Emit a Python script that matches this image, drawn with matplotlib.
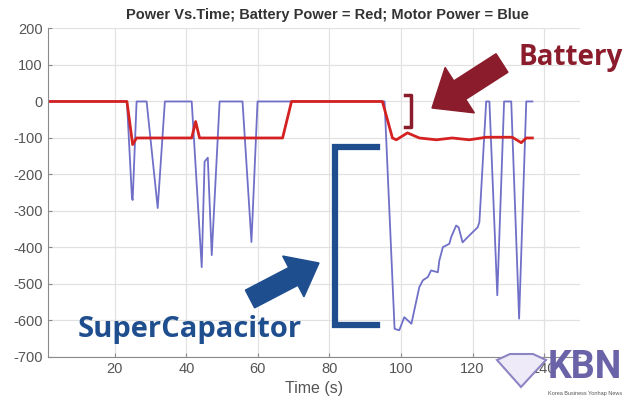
import matplotlib
matplotlib.use("Agg")
import matplotlib.pyplot as plt
from matplotlib.patches import FancyArrow, Polygon
from matplotlib.lines import Line2D

plt.rcParams['axes.unicode_minus'] = False
plt.rcParams['font.family'] = ['Liberation Sans', 'DejaVu Sans']

# motor power (blue)
motor_t = [1.3, 23.4, 24.8, 25.0, 26.1, 28.9, 32.0, 34.0, 41.5, 44.3, 45.1, 46.0, 47.1, 49.3,
           55.7, 58.2, 59.9, 95.4, 98.2, 99.5, 100.9, 102.9, 105.1, 106.1, 107.5, 108.4, 110.3,
           110.7, 111.7, 113.5, 114.0, 115.4, 116.1, 117.2, 119.1, 121.4, 121.9, 123.8, 124.7,
           126.9, 128.8, 130.8, 133.0, 135.0, 136.7]
motor_p = [0, 0, -264, -270, 0, 0, -292, 0, 0, -454, -165, -154, -421, 0,
           0, -385, 0, 0, -623, -627, -591, -609, -509, -490, -481, -463, -468,
           -436, -399, -390, -372, -340, -345, -386, -367, -345, -331, 0, 0,
           -531, 0, 0, -595, 0, 0]

# battery power (red)
battery_t = [1.3, 23.4, 25.0, 26.1, 41.5, 42.6, 43.7, 66.9, 69.4, 94.8, 97.6, 98.7, 101.8,
             105.1, 109.9, 114.3, 119.1, 123.8, 131.1, 133.6, 135.0, 136.7]
battery_p = [0, 0, -118, -100, -100, -55, -100, -100, 0, 0, -100, -105, -86,
             -100, -105, -100, -105, -98, -98, -113, -100, -100]

xticks = [20, 40, 60, 80, 100, 120, 140]
yticks = [200, 100, 0, -100, -200, -300, -400, -500, -600, -700]

fig = plt.figure(figsize=(6.38, 4.07), dpi=100)
ax = fig.add_axes([0.075, 0.123, 0.834, 0.807])

ax.plot(motor_t, motor_p, color='#7070c8', lw=1.3)
ax.plot(battery_t, battery_p, color='#d42222', lw=2.0)

ax.set_xlim(1.3, 150)
ax.set_ylim(-700, 200)
ax.set_xticks(xticks)
ax.set_yticks(yticks)
ax.grid(True, color='#e2e2e2', lw=0.9)
ax.set_axisbelow(True)
for s in ['top', 'right']:
    ax.spines[s].set_visible(False)
for s in ['left', 'bottom']:
    ax.spines[s].set_color('#8a8a8a')
ax.tick_params(direction='in', length=3, colors='#8a8a8a', labelcolor='#555555', labelsize=10.5)
ax.set_xlabel('Time (s)', fontsize=11.5, color='#555555', labelpad=4)
ax.set_title('Power Vs.Time; Battery Power = Red; Motor Power = Blue',
             fontsize=10.5, fontweight='bold', color='#333333', pad=7, x=0.526)

# overlay annotations, placed in figure pixels (converted to inches)
T = fig.dpi_scale_trans
H = 407.0


def px(x, y):
    return x / 100.0, (H - y) / 100.0


red = '#8b1c2c'
blue = '#1f4e8f'
ann = ['Open Sans', 'DejaVu Sans']

fig.text(571 / 638, 1 - 58 / H, 'Battery', color=red, fontsize=20, fontweight='bold',
         ha='center', va='center', family=ann)
tx, ty = px(502, 63)
hx, hy = px(432, 108)
fig.patches.append(FancyArrow(tx, ty, hx - tx, hy - ty, width=0.22, head_width=0.54,
                              head_length=0.33, length_includes_head=True,
                              color=red, transform=T, figure=fig))
bx = [405, 411, 411, 405]
by = [95, 95, 127, 127]
fig.lines.append(Line2D([b / 100 for b in bx], [(H - b) / 100 for b in by], color=red,
                        lw=2.5, transform=T, figure=fig))

fig.text(190 / 638, 1 - 329 / H, 'SuperCapacitor', color=blue, fontsize=21,
         fontweight='bold', ha='center', va='center', family=ann)
tx, ty = px(250, 299)
hx, hy = px(319, 263)
fig.patches.append(FancyArrow(tx, ty, hx - tx, hy - ty, width=0.2, head_width=0.46,
                              head_length=0.29, length_includes_head=True,
                              color=blue, transform=T, figure=fig))
cx = [377, 335, 335, 377]
cy = [147, 147, 325, 325]
fig.lines.append(Line2D([c / 100 for c in cx], [(H - c) / 100 for c in cy], color=blue,
                        lw=4.5, transform=T, figure=fig, solid_joinstyle='miter'))

# watermark
dia = [(497, 360), (510, 354), (533, 354), (546, 360), (521, 387)]
fig.patches.append(Polygon([px(a, b) for a, b in dia], closed=True, facecolor='#eeeaf8',
                           edgecolor='#8d84c4', lw=1.5, transform=T, figure=fig))
fig.text(585 / 638, 1 - 368 / H, 'KBN', color='#6b63a8', fontsize=27, fontweight='bold',
         ha='center', va='center', family='Roboto')
fig.text(585 / 638, 1 - 393 / H, 'Korea Business Yonhap News', color='#555555', fontsize=4,
         ha='center', va='center')

fig.savefig('out.png', dpi=100)
